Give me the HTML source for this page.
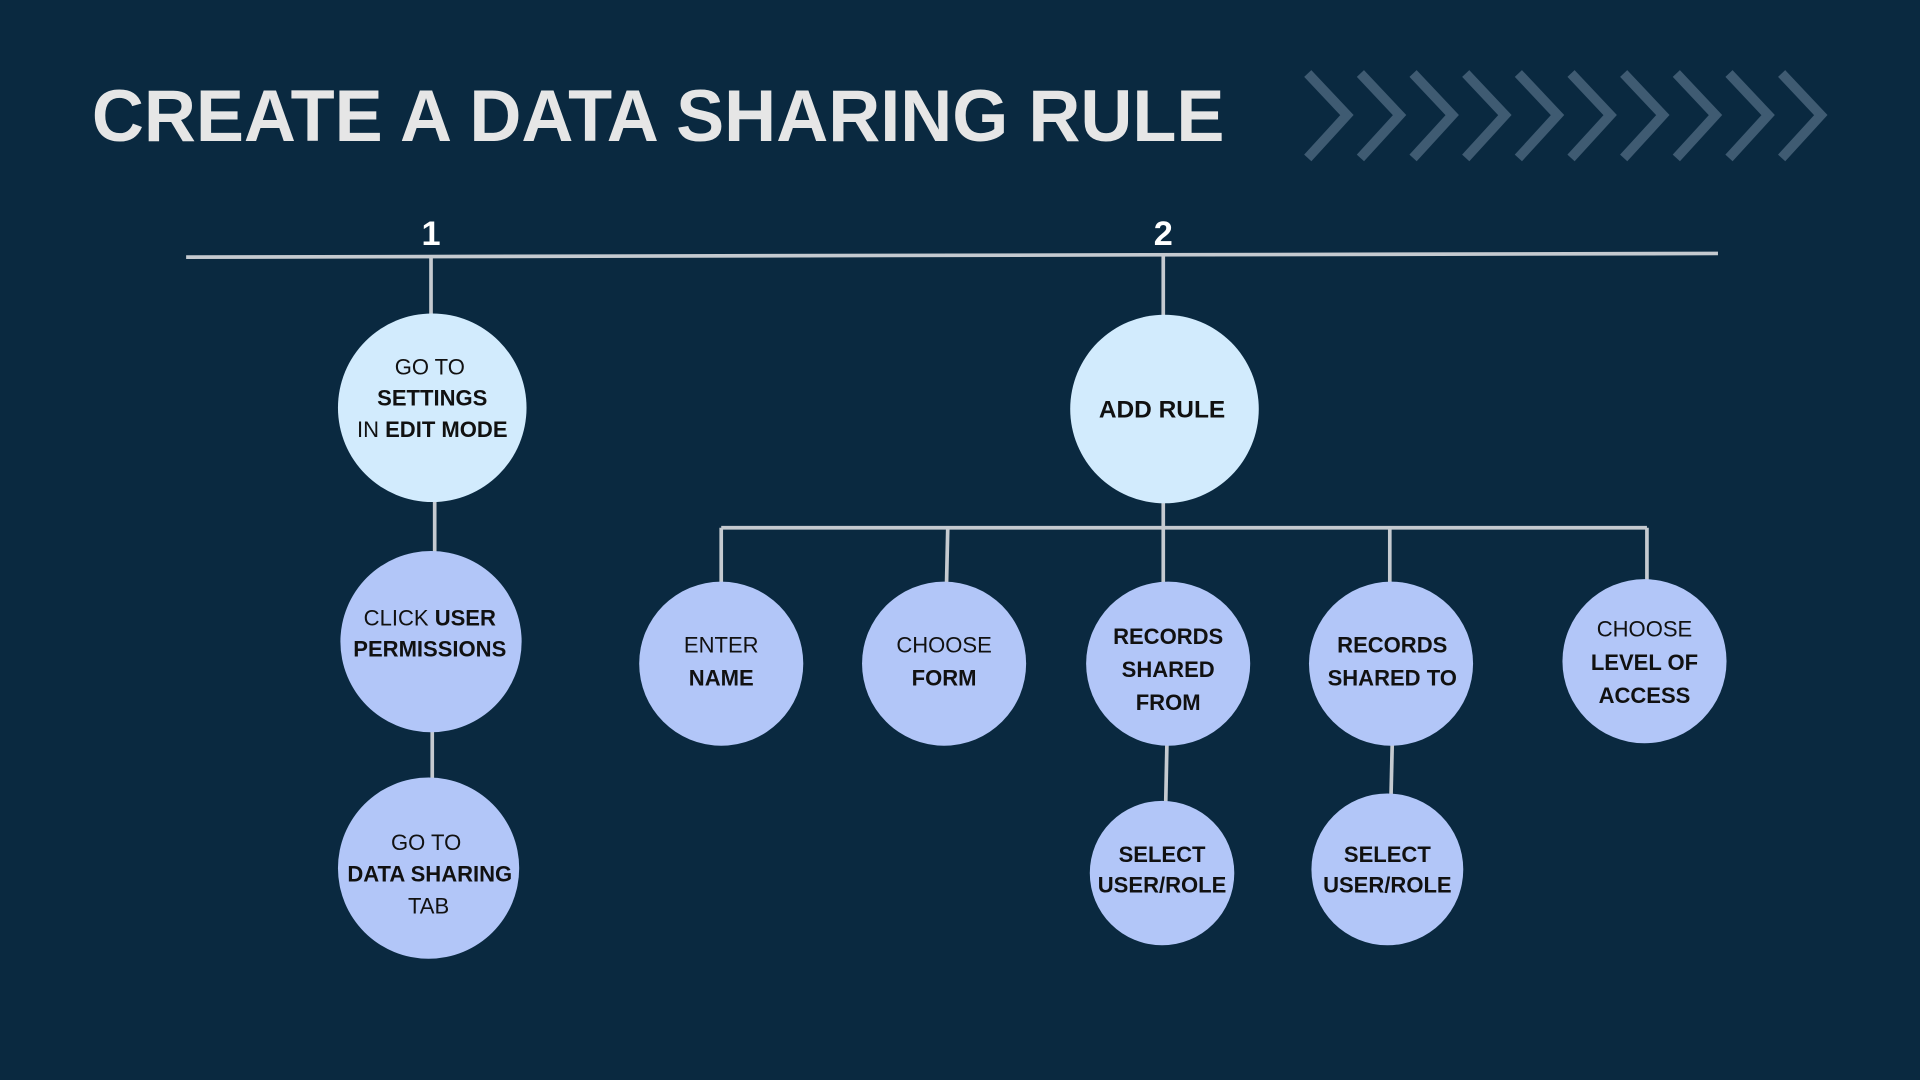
<!DOCTYPE html>
<html><head><meta charset="utf-8"><style>
html,body{margin:0;padding:0;background:#0a2940;width:1920px;height:1080px;overflow:hidden}
svg{display:block}
text{font-family:"Liberation Sans",sans-serif}
</style></head><body>
<svg width="1920" height="1080" viewBox="0 0 1568 882" xmlns="http://www.w3.org/2000/svg">
<rect width="1568" height="882" fill="#0a2940"/>
<text x="75" y="115" font-size="60" font-weight="bold" fill="#e6e6e6" textLength="925" lengthAdjust="spacingAndGlyphs">CREATE A DATA SHARING RULE</text>
<g fill="none" stroke="#3f5b72" stroke-width="8">
<polyline points="1068,60 1100,94 1068,129"/>
<polyline points="1111,60 1143,94 1111,129"/>
<polyline points="1154,60 1186,94 1154,129"/>
<polyline points="1197,60 1229,94 1197,129"/>
<polyline points="1240,60 1272,94 1240,129"/>
<polyline points="1283,60 1315,94 1283,129"/>
<polyline points="1326,60 1358,94 1326,129"/>
<polyline points="1369,60 1401,94 1369,129"/>
<polyline points="1412,60 1444,94 1412,129"/>
<polyline points="1455,60 1487,94 1455,129"/>
</g>
<g stroke="#c5cad0" stroke-width="3" fill="none">
<line x1="152" y1="210" x2="1403" y2="207"/>
<line x1="352" y1="210" x2="352" y2="258"/>
<line x1="950" y1="208" x2="950" y2="258"/>
<line x1="355" y1="408" x2="355" y2="452"/>
<line x1="353" y1="596" x2="353" y2="637"/>
<line x1="589" y1="431" x2="1345" y2="431"/>
<line x1="589" y1="431" x2="589" y2="477"/>
<line x1="774" y1="431" x2="773" y2="477"/>
<line x1="950" y1="409" x2="950" y2="477"/>
<line x1="1135" y1="431" x2="1135" y2="477"/>
<line x1="1345" y1="431" x2="1345" y2="475"/>
<line x1="953" y1="607" x2="952" y2="656"/>
<line x1="1137" y1="607" x2="1136" y2="650"/>
</g>
<g font-size="28" font-weight="bold" fill="#fff" text-anchor="middle">
<text x="352" y="200">1</text><text x="950" y="200">2</text>
</g>
<g fill="#d2ebfd">
<circle cx="353" cy="333" r="77"/>
<circle cx="951" cy="334" r="77"/>
</g>
<g fill="#b2c6f8">
<circle cx="352" cy="524" r="74"/>
<circle cx="350" cy="709" r="74"/>
<circle cx="589" cy="542" r="67"/>
<circle cx="771" cy="542" r="67"/>
<circle cx="954" cy="542" r="67"/>
<circle cx="1136" cy="542" r="67"/>
<circle cx="1343" cy="540" r="67"/>
<circle cx="949" cy="713" r="59"/>
<circle cx="1133" cy="710" r="62"/>
</g>
<g font-size="18" fill="#111" text-anchor="middle">
<text x="351" y="306">GO TO</text>
<text x="353" y="331" font-weight="bold">SETTINGS</text>
<text x="353" y="357">IN <tspan font-weight="bold">EDIT MODE</tspan></text>
<text x="351" y="511">CLICK <tspan font-weight="bold">USER</tspan></text>
<text x="351" y="536" font-weight="bold">PERMISSIONS</text>
<text x="348" y="694">GO TO</text>
<text x="351" y="720" font-weight="bold">DATA SHARING</text>
<text x="350" y="746">TAB</text>
<text x="949" y="341" font-size="20" font-weight="bold">ADD RULE</text>
<text x="589" y="533">ENTER</text>
<text x="589" y="560" font-weight="bold">NAME</text>
<text x="771" y="533">CHOOSE</text>
<text x="771" y="560" font-weight="bold">FORM</text>
<text x="954" y="526" font-weight="bold">RECORDS</text>
<text x="954" y="553" font-weight="bold">SHARED</text>
<text x="954" y="580" font-weight="bold">FROM</text>
<text x="1137" y="533" font-weight="bold">RECORDS</text>
<text x="1137" y="560" font-weight="bold">SHARED TO</text>
<text x="1343" y="520">CHOOSE</text>
<text x="1343" y="547" font-weight="bold">LEVEL OF</text>
<text x="1343" y="574" font-weight="bold">ACCESS</text>
<text x="949" y="704" font-weight="bold">SELECT</text>
<text x="949" y="729" font-weight="bold">USER/ROLE</text>
<text x="1133" y="704" font-weight="bold">SELECT</text>
<text x="1133" y="729" font-weight="bold">USER/ROLE</text>
</g>
</svg>
</body></html>
